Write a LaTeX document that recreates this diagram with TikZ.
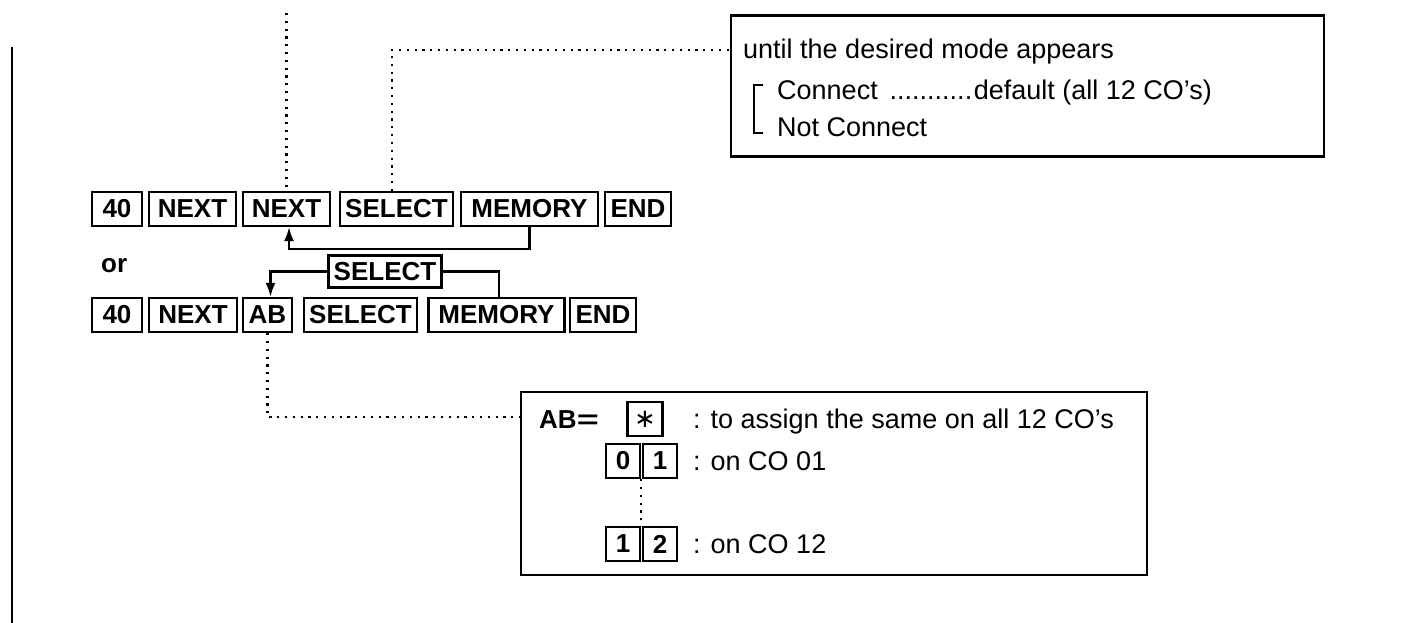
\documentclass[tikz,border=0pt]{standalone}
\usepackage{graphicx}
\usepackage{fontspec}
\setmainfont{Liberation Sans}
\newfontfamily\symfont{DejaVu Sans}
\usetikzlibrary{arrows.meta}
\newcommand\keyfont{\fontsize{26}{26}\selectfont\bfseries}
\newcommand\txtfont{\fontsize{27}{27}\selectfont}
\tikzset{
  key/.style={draw, line width=2.2pt, inner sep=0pt, minimum height=34pt, font=\keyfont},
  frame/.style={draw, line width=2.5pt, inner sep=0pt},
  txt/.style={anchor=base west, inner sep=0pt, font=\txtfont},
  btxt/.style={anchor=base west, inner sep=0pt, font=\keyfont},
  dots/.style={line width=2.2pt, dash pattern=on 2.2pt off 5.6pt},
  conn/.style={line width=2.2pt},
  arr/.style={conn, -{Latex[length=14pt,width=10pt]}}
}
\begin{document}
\begin{tikzpicture}[x=1pt,y=-1pt]
\useasboundingbox (0,0) rectangle (1421,623);
% left margin line
\draw[line width=2.5pt] (12,47) -- (12,623);
% row 1
\node[key, minimum width=50pt]  (k40a)  at (117,209)   {40};
\node[key, minimum width=87pt]  (nexta) at (192.5,209) {NEXT};
\node[key, minimum width=87pt]  (nextb) at (286.5,209) {NEXT};
\node[key, minimum width=113pt] (sela)  at (396.5,209) {SELECT};
\node[key, minimum width=137pt] (mema)  at (529.5,209) {MEMORY};
\node[key, minimum width=66pt]  (enda)  at (638,209)   {END};
% or
\node[btxt] (or) at (101,272) {or};
% middle select
\node[key, minimum width=113pt, minimum height=32pt] (selm) at (385,271.5) {SELECT};
% row 2
\node[key, minimum width=50pt]  (k40b)  at (117,315)   {40};
\node[key, minimum width=88pt]  (nextc) at (193,315)   {NEXT};
\node[key, minimum width=49pt]  (ab)    at (267.5,315) {AB};
\node[key, minimum width=113pt] (selb)  at (360.5,315) {SELECT};
\node[key, minimum width=136pt] (memb)  at (496.5,315) {MEMORY};
\node[key, minimum width=66pt]  (endb)  at (603,315)   {END};
% loops
\draw[arr] (mema.south) -- ++(0,22) -| ([xshift=2.5pt]nextb.south);
\draw[arr] (selm.west) -| ([xshift=3pt]ab.north);
\draw[conn] (selm.east) -| ([xshift=2.5pt]memb.north);
% top box
\node[frame, minimum width=593pt, minimum height=141pt] (topbox) at (1027.5,86) {};
\node[txt] (until) at (743,59) {until the desired mode appears};
\draw[line width=2pt] (763,85) -- (754,85) -- (754,133) -- (763,133);
\node[txt] (conn) at (777,100) {Connect\hspace{8pt}\leaders\hbox to 7.5pt{\hss.\hss}\hskip 90pt\hspace{-2pt}default (all 12 CO’s)};
\node[txt] (notconn) at (777,137) {Not Connect};
% dotted links top
\coordinate (toptop) at (286.5,13);
\draw[dots] (toptop) -- (nextb.north);
\draw[dots] ([xshift=-4.8pt]sela.north) |- (topbox.west |- 0,50);
% bottom box
\node[frame, minimum width=626pt, minimum height=183pt] (botbox) at (834,483.5) {};
\node[btxt] (abeq) at (539,428.5) {AB\scalebox{1.45}[1]{=}};
\node[key, minimum width=35pt] (star) at (645,419) {\symfont\mdseries ∗};
\node[txt] (t1) at (693,428.5) {: to assign the same on all 12 CO’s};
\node[key, minimum width=34pt] (d0)  at (623,461) {0};
\node[key, minimum width=34pt] (d1)  at (660,461) {1};
\node[txt] (t2) at (693,470.5) {: on CO 01};
\node[key, minimum width=34pt] (d12a) at (623,544) {1};
\node[key, minimum width=34pt] (d12b) at (660,544) {2};
\node[txt] (t3) at (693,553.5) {: on CO 12};
\draw[dots] (d0.south east) -- (d12a.north east);
\draw[dots] (ab.south) |- (botbox.west |- 0,417);
\end{tikzpicture}
\end{document}
